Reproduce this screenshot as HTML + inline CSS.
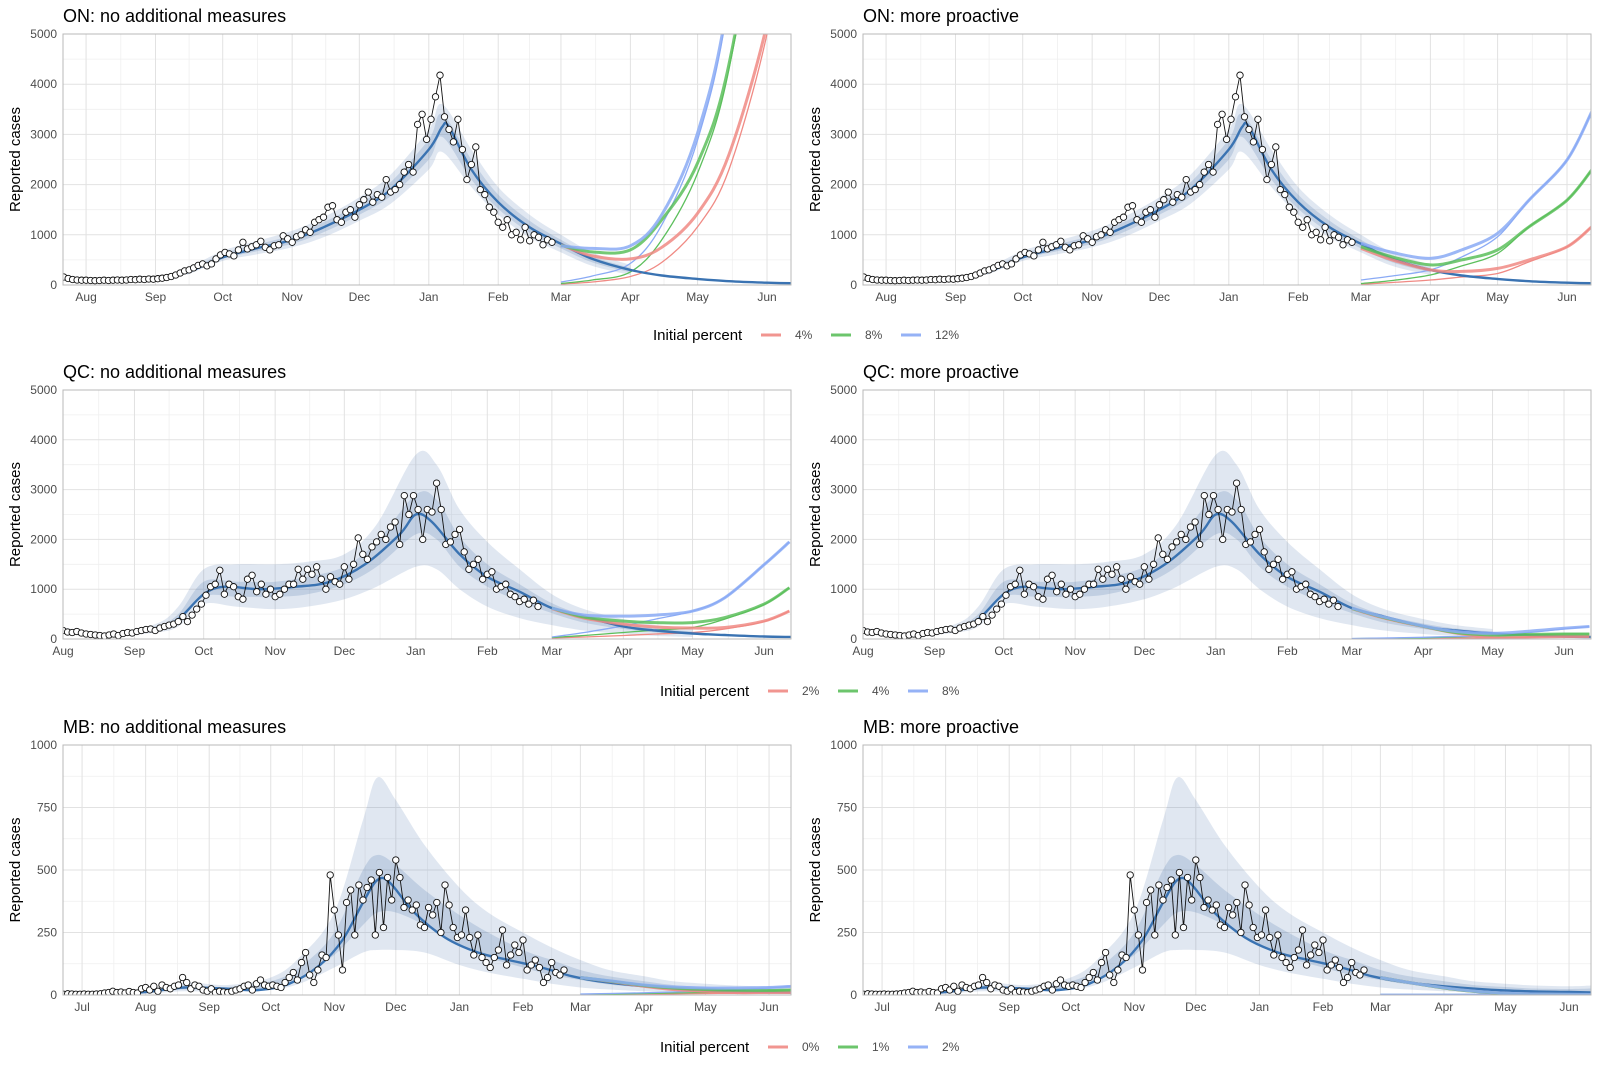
<!DOCTYPE html>
<html><head><meta charset="utf-8"><style>
html,body{margin:0;padding:0;background:#fff;}
svg{display:block;font-family:"Liberation Sans",Arial,sans-serif;}
</style></head><body>
<svg id="chart" width="1600" height="1067" viewBox="0 0 1600 1067" xmlns="http://www.w3.org/2000/svg">
<rect width="1600" height="1067" fill="#fff"/>
</svg>
<script>
// ===== DATA =====
// Ontario
const onObsStart = "2020-07-22";
const onObs = [160,130,110,100,95,
95,90,85,90,95,90,95,100,95,100,110,105,115,110,120,115,
125,135,150,170,200,240,280,300,340,390,420,380,420,520,
600,650,620,580,700,850,720,760,800,870,750,700,780,800,
980,920,850,960,1000,1100,1050,1250,1300,1350,1550,1580,1300,1250,
1450,1500,1350,1600,1700,1850,1650,1800,1750,2100,1850,1900,2000,2250,2400,2250,
3200,3400,2900,3300,3750,4180,3350,3100,2850,3300,2700,2100,2400,2750,1900,
1800,1550,1450,1250,1150,1300,1000,1050,900,1150,880,1000,950,800,900,850];
const onFitDates = ["2020-07-22","2020-08-15","2020-09-01","2020-09-15","2020-10-01","2020-10-15","2020-11-01","2020-11-15","2020-12-01","2020-12-15","2021-01-01","2021-01-07","2021-01-10","2021-01-20","2021-02-01","2021-02-15","2021-03-01","2021-03-15","2021-04-01","2021-04-15","2021-05-01","2021-05-15","2021-06-01","2021-06-12"];
const onFitVals = [120,100,120,250,550,720,900,1150,1500,1900,2700,3150,3150,2300,1650,1150,820,520,300,190,120,75,45,35];
const onRibDates = ["2020-09-15","2020-10-01","2020-10-15","2020-11-01","2020-11-15","2020-12-01","2020-12-15","2021-01-01","2021-01-07","2021-01-20","2021-02-01","2021-02-15","2021-03-01","2021-03-15","2021-04-01"];
const onOuterUp = [320,680,860,1080,1350,1750,2200,3100,3600,2700,1950,1400,1000,650,400];
const onOuterLo = [200,480,600,750,950,1280,1620,2300,2650,1950,1400,950,650,380,200];
const onInnerUp = [280,620,790,990,1250,1620,2050,2900,3400,2500,1800,1280,900,570,340];
const onInnerLo = [230,520,660,820,1050,1400,1770,2500,2950,2100,1520,1040,730,450,250];
const projDates = ["2021-03-01","2021-03-15","2021-04-01","2021-04-15","2021-05-01","2021-05-15","2021-06-01","2021-06-12"];
const onNoRedThick = [800,580,520,750,1430,2600,5200,8000];
const onNoRedThin = [20,60,170,450,1160,2300,5000,8000];
const onNoGreenThick = [790,660,700,1300,2430,4400,9000,15000];
const onNoGreenThin = [30,100,260,900,2230,4300,9000,15000];
const onNoBlueThick = [780,730,780,1400,3030,5800,12000,20000];
const onNoBlueThin = [60,180,430,1200,2890,5700,12000,20000];
const onPrRedThick = [730,500,300,270,330,500,760,1160];
const onPrRedThin = [15,50,100,160,230,460,760,1160];
const onPrGreenThick = [760,560,400,500,700,1160,1690,2290];
const onPrGreenThin = [30,90,200,380,630,1160,1690,2290];
const onPrBlueThick = [830,650,530,700,1030,1690,2490,3450];
const onPrBlueThin = [100,180,300,560,960,1690,2490,3450];

// Quebec
const qcObsStart = "2020-08-01";
const qcObs = [170,140,130,150,120,100,90,80,70,60,80,100,70,110,130,120,
150,170,190,200,170,220,250,280,300,350,450,350,480,600,700,
880,1050,1100,1380,900,1100,1050,850,800,1200,1280,950,1100,900,1000,850,
900,1000,1100,1100,1400,1200,1400,1300,1450,1200,1000,1250,1150,1100,
1450,1200,1500,2030,1700,1600,1850,1950,2100,2000,2250,2350,1900,2880,
2500,2880,2600,2000,2600,2550,3130,2600,1900,1950,2100,2200,1750,
1400,1500,1600,1200,1300,1350,1000,1050,1100,900,850,750,800,700,780,650];
const qcFitDates = ["2020-08-01","2020-08-20","2020-09-10","2020-09-20","2020-10-01","2020-10-10","2020-10-25","2020-11-10","2020-11-25","2020-12-10","2020-12-25","2021-01-01","2021-01-08","2021-01-20","2021-02-01","2021-02-15","2021-03-01","2021-03-15","2021-04-01","2021-04-15","2021-05-01","2021-05-15","2021-06-01","2021-06-13"];
const qcFitVals = [150,80,200,400,900,1050,1000,1050,1150,1500,2100,2500,2350,1700,1250,950,620,450,250,170,110,80,50,40];
const qcRibDates = ["2020-08-01","2020-08-20","2020-09-10","2020-09-20","2020-10-01","2020-10-15","2020-11-01","2020-11-15","2020-12-01","2020-12-15","2021-01-01","2021-01-10","2021-01-20","2021-02-01","2021-02-15","2021-03-01","2021-03-15","2021-04-01","2021-04-15","2021-05-01"];
const qcOuterUp = [230,120,300,650,1400,1500,1500,1550,1700,2300,3700,3500,2600,1950,1400,900,600,400,280,200];
const qcOuterLo = [100,50,130,250,700,650,600,650,800,1050,1450,1400,1000,650,420,280,170,100,60,40];
const qcInnerUp = [190,100,250,500,1150,1150,1150,1250,1450,1950,2900,2800,2050,1500,1100,720,480,310,210,150];
const qcInnerLo = [120,65,170,330,850,850,850,900,1100,1450,2100,2000,1450,1050,760,520,330,200,130,90];
const qcNoRedThick = [610,420,300,240,220,230,360,560];
const qcNoRedThin = [20,40,70,100,130,200,350,560];
const qcNoGreenThick = [620,440,360,330,330,430,700,1030];
const qcNoGreenThin = [30,70,130,180,230,400,690,1030];
const qcNoBlueThick = [620,480,460,480,560,830,1490,1950];
const qcNoBlueThin = [40,130,265,400,560,830,1490,1950];
const qcPrRedThick = [610,420,250,120,30,40,50,50];
const qcPrRedThin = [5,10,15,20,25,35,50,50];
const qcPrGreenThick = [615,430,255,130,80,90,100,100];
const qcPrGreenThin = [8,15,25,40,60,80,100,100];
const qcPrBlueThick = [620,440,260,150,115,150,215,250];
const qcPrBlueThin = [10,20,35,50,60,120,200,250];

// Manitoba
const mbObsStart = "2020-06-22";
const mbObs = [3,5,4,3,3,
4,3,3,4,5,8,10,15,10,12,8,14,10,8,
25,30,20,35,15,40,30,25,35,40,70,50,25,40,35,
20,15,25,10,15,12,10,15,20,25,35,40,20,45,
60,40,35,40,35,30,50,70,90,60,130,170,80,50,100,160,
150,480,340,240,100,370,420,240,440,380,430,460,240,490,270,
470,380,540,470,350,380,340,360,280,270,350,320,370,250,440,360,
270,230,240,340,230,160,240,150,130,110,150,180,260,120,160,
200,170,220,100,120,140,110,50,70,130,90,80,100];
const mbFitDates = ["2020-06-22","2020-07-15","2020-08-01","2020-08-20","2020-09-10","2020-09-25","2020-10-10","2020-10-25","2020-11-05","2020-11-15","2020-11-22","2020-11-28","2020-12-10","2020-12-25","2021-01-10","2021-01-25","2021-02-10","2021-02-25","2021-03-10","2021-04-01","2021-05-01","2021-06-01","2021-06-12"];
const mbFitVals = [3,5,12,30,25,20,45,120,220,370,460,450,330,230,170,140,110,75,55,35,18,12,10];
const mbRibDates = ["2020-07-15","2020-08-01","2020-08-20","2020-09-10","2020-10-01","2020-10-15","2020-11-01","2020-11-15","2020-11-22","2020-12-01","2020-12-15","2021-01-01","2021-01-15","2021-02-01","2021-02-15","2021-03-01","2021-03-15","2021-04-01","2021-04-15","2021-05-01","2021-05-15","2021-06-01","2021-06-12"];
const mbOuterUp = [8,20,50,40,70,150,330,700,870,780,600,430,330,250,190,140,100,75,55,45,38,35,38];
const mbOuterLo = [2,5,15,12,20,45,110,170,180,180,170,120,90,65,45,30,22,15,10,8,6,5,5];
const mbInnerUp = [6,15,38,32,55,110,250,500,560,520,420,320,250,180,140,100,75,55,40,32,26,24,26];
const mbInnerLo = [3,8,22,18,30,70,160,280,330,330,280,200,150,110,80,60,42,30,20,15,12,10,10];
const mbNoRedThick = [70,55,35,22,15,10,10,10];
const mbNoRedThin = [2,3,4,5,6,7,9,10];
const mbNoGreenThick = [70,56,38,28,22,19,18,20];
const mbNoGreenThin = [3,4,6,8,10,13,17,20];
const mbNoBlueThick = [70,57,40,32,28,28,30,35];
const mbNoBlueThin = [4,6,9,12,16,21,28,35];
const mbPrRedThick = [70,50,28,15,6,3,2,1];
const mbPrRedThin = [1,1,1,1,1,1,1,1];
const mbPrGreenThick = [70,50,28,15,6,3,2,1];
const mbPrGreenThin = [2,2,2,2,2,2,2,2];
const mbPrBlueThick = [70,50,29,16,7,4,3,2];
const mbPrBlueThin = [3,3,3,3,3,3,3,2];

const onLegend = ["4%","8%","12%"];
const qcLegend = ["2%","4%","8%"];
const mbLegend = ["0%","1%","2%"];
const yTicksBig = [0,1000,2000,3000,4000,5000];
const yTicksMB = [0,250,500,750,1000];
const monthNames = ["Jan","Feb","Mar","Apr","May","Jun","Jul","Aug","Sep","Oct","Nov","Dec"];

// ===== RENDER =====
const NS = "http://www.w3.org/2000/svg";
const svg = document.getElementById("chart");
function day(s){const p=s.split("-");return Date.UTC(+p[0],+p[1]-1,+p[2])/864e5;}
function mk(tag, attrs, parent){const e=document.createElementNS(NS,tag);for(const k in attrs)e.setAttribute(k,attrs[k]);(parent||svg).appendChild(e);return e;}
function smooth(pts){
  if(!pts.length) return "";
  let d="M"+pts[0][0].toFixed(1)+","+pts[0][1].toFixed(1);
  for(let i=0;i<pts.length-1;i++){
    const p0=pts[Math.max(0,i-1)],p1=pts[i],p2=pts[i+1],p3=pts[Math.min(pts.length-1,i+2)];
    const c1=[p1[0]+(p2[0]-p0[0])/6,p1[1]+(p2[1]-p0[1])/6];
    const c2=[p2[0]-(p3[0]-p1[0])/6,p2[1]-(p3[1]-p1[1])/6];
    d+="C"+c1[0].toFixed(1)+","+c1[1].toFixed(1)+" "+c2[0].toFixed(1)+","+c2[1].toFixed(1)+" "+p2[0].toFixed(1)+","+p2[1].toFixed(1);
  }
  return d;
}
const RED="#f08a84", GREEN="#5cbf5c", BLUE="#8aaaf5", FIT="#3a73b2";
let clipId=0;

function drawPanel(cfg){
  const g=mk("g",{});
  
  
  const x0=cfg.x0,y0=cfg.y0,w=cfg.w,h=cfg.h;
  const d0=cfg.d0,d1=cfg.d1;
  const X=d=>x0+(d-d0)/(d1-d0)*w;
  const Y=v=>y0+h-v/cfg.ymax*h;
  const t=mk("text",{x:x0,y:y0-12,"font-size":"18","fill":"#000"},g);
  t.textContent=cfg.title;
  
  
  const yt=cfg.yticks;
  for(let i=0;i<yt.length-1;i++){
    const v=(yt[i]+yt[i+1])/2;
    mk("line",{x1:x0,x2:x0+w,y1:Y(v),y2:Y(v),stroke:"#efefef","stroke-width":"0.8"},g);
  }
  const months=[];
  let yy=cfg.m0y, mm=cfg.m0m;
  while(true){
    const dd=Date.UTC(yy,mm,1)/864e5;
    if(dd>d1) break;
    if(dd>=d0) months.push({d:dd,label:monthNames[mm]});
    mm++; if(mm>11){mm=0;yy++;}
  }
  for(let i=0;i<months.length;i++){
    const a=months[i].d, b=i+1<months.length?months[i+1].d:a+31;
    const mid=(a+b)/2;
    if(mid<d1) mk("line",{x1:X(mid),x2:X(mid),y1:y0,y2:y0+h,stroke:"#efefef","stroke-width":"0.8"},g);
    if(i==0){const pm=a-15.5; if(pm>d0) mk("line",{x1:X(pm),x2:X(pm),y1:y0,y2:y0+h,stroke:"#efefef","stroke-width":"0.8"},g);}
  }
  yt.forEach(v=>{
    mk("line",{x1:x0,x2:x0+w,y1:Y(v),y2:Y(v),stroke:"#e2e2e2","stroke-width":"1"},g);
    const tl=mk("text",{x:x0-6,y:Y(v)+4,"font-size":"12","fill":"#4d4d4d","text-anchor":"end"},g);
    tl.textContent=v;
    
    
  });
  months.forEach(m=>{
    mk("line",{x1:X(m.d),x2:X(m.d),y1:y0,y2:y0+h,stroke:"#e2e2e2","stroke-width":"1"},g);
    const tl=mk("text",{x:X(m.d),y:y0+h+16,"font-size":"12","fill":"#4d4d4d","text-anchor":"middle"},g);
    tl.textContent=m.label;
    
    
  });
  const yl=mk("text",{x:0,y:0,"font-size":"15","fill":"#000","text-anchor":"middle",transform:"translate("+(x0-43)+","+(y0+h/2)+") rotate(-90)"},g);
  yl.textContent="Reported cases";
  
  
  const cid="clip"+(clipId++);
  const cp=mk("clipPath",{id:cid},g);
  mk("rect",{x:x0,y:y0,width:w,height:h},cp);
  const pg=mk("g",{"clip-path":"url(#"+cid+")"},g);
  function ribbon(dates,up,lo,fill,name){
    const u=dates.map((s,i)=>[X(day(s)),Y(up[i])]);
    const l=dates.map((s,i)=>[X(day(s)),Y(lo[i])]).reverse();
    const d=smooth(u)+"L"+l[0][0].toFixed(1)+","+l[0][1].toFixed(1)+smooth(l).replace(/^M[^C]*/,"")+"Z";
    const p=mk("path",{d:d,fill:fill,stroke:"none"},pg);
    
    
  }
  ribbon(cfg.ribDates,cfg.outerUp,cfg.outerLo,"rgba(70,115,170,0.17)","outer-ribbon");
  ribbon(cfg.ribDates,cfg.innerUp,cfg.innerLo,"rgba(70,115,170,0.2)","inner-ribbon");
  function proj(vals,color,wid,op,name){
    const pts=projDates.map((s,i)=>[X(day(s)),Y(vals[i])]);
    const p=mk("path",{d:smooth(pts),fill:"none",stroke:color,"stroke-width":wid,"stroke-opacity":op},pg);
    
    
  }
  proj(cfg.redThin,RED,1.3,1,"projection-low-thin");
  proj(cfg.greenThin,GREEN,1.3,1,"projection-mid-thin");
  proj(cfg.blueThin,BLUE,1.3,1,"projection-high-thin");
  const fp=cfg.fitDates.map((s,i)=>[X(day(s)),Y(cfg.fitVals[i])]);
  const fl=mk("path",{d:smooth(fp),fill:"none",stroke:FIT,"stroke-width":"2.4"},pg);
  
  
  proj(cfg.redThick,RED,3,0.85,"projection-low");
  proj(cfg.greenThick,GREEN,3,0.85,"projection-mid");
  proj(cfg.blueThick,BLUE,3,0.85,"projection-high");
  const s0=day(cfg.obsStart);
  const op=cfg.obs.map((v,i)=>[X(s0+2*i),Y(v)]);
  const ol=mk("polyline",{points:op.map(p=>p[0].toFixed(1)+","+p[1].toFixed(1)).join(" "),fill:"none",stroke:"#111","stroke-width":"0.9"},pg);
  
  
  op.forEach(p=>{
    const c=mk("circle",{cx:p[0].toFixed(1),cy:p[1].toFixed(1),r:"3.2",fill:"#fff",stroke:"#111","stroke-width":"0.9"},pg);
    
    
  });
  const b=mk("rect",{x:x0,y:y0,width:w,height:h,fill:"none",stroke:"#b8b8b8","stroke-width":"1"},g);
  
  
}

function drawLegend(xStart,cy,labels){
  const g=mk("g",{});
  
  
  const t=mk("text",{x:xStart,y:cy+5,"font-size":"15","fill":"#000"},g);
  t.textContent="Initial percent";
  
  
  const cols=[RED,GREEN,BLUE];
  let x=xStart+108;
  labels.forEach((lab,i)=>{
    const l=mk("line",{x1:x,x2:x+20,y1:cy,y2:cy,stroke:cols[i],"stroke-width":"3","stroke-opacity":"0.9"},g);
    
    
    const tx=mk("text",{x:x+34,y:cy+4,"font-size":"12","fill":"#4d4d4d"},g);
    tx.textContent=lab;
    
    
    x+=34+lab.length*7+22;
  });
}

const W=728;
const onD0=day("2020-08-01")-10.3, onD1=day("2021-06-01")+10.7;
const qcD0=day("2020-08-01"), qcD1=day("2021-06-01")+11.7;
const mbD0=day("2020-07-01")-9.3, mbD1=day("2021-06-01")+10.7;

const onBase={d0:onD0,d1:onD1,ymax:5000,yticks:yTicksBig,m0y:2020,m0m:7,obsStart:onObsStart,obs:onObs,fitDates:onFitDates,fitVals:onFitVals,ribDates:onRibDates,outerUp:onOuterUp,outerLo:onOuterLo,innerUp:onInnerUp,innerLo:onInnerLo,y0:34,h:251};
const qcBase={d0:qcD0,d1:qcD1,ymax:5000,yticks:yTicksBig,m0y:2020,m0m:7,obsStart:qcObsStart,obs:qcObs,fitDates:qcFitDates,fitVals:qcFitVals,ribDates:qcRibDates,outerUp:qcOuterUp,outerLo:qcOuterLo,innerUp:qcInnerUp,innerLo:qcInnerLo,y0:390,h:249};
const mbBase={d0:mbD0,d1:mbD1,ymax:1000,yticks:yTicksMB,m0y:2020,m0m:6,obsStart:mbObsStart,obs:mbObs,fitDates:mbFitDates,fitVals:mbFitVals,ribDates:mbRibDates,outerUp:mbOuterUp,outerLo:mbOuterLo,innerUp:mbInnerUp,innerLo:mbInnerLo,y0:745,h:250};

drawPanel(Object.assign({},onBase,{name:"panel-on-no-measures",title:"ON: no additional measures",x0:63,w:W,redThick:onNoRedThick,redThin:onNoRedThin,greenThick:onNoGreenThick,greenThin:onNoGreenThin,blueThick:onNoBlueThick,blueThin:onNoBlueThin}));
drawPanel(Object.assign({},onBase,{name:"panel-on-proactive",title:"ON: more proactive",x0:863,w:W,redThick:onPrRedThick,redThin:onPrRedThin,greenThick:onPrGreenThick,greenThin:onPrGreenThin,blueThick:onPrBlueThick,blueThin:onPrBlueThin}));
drawPanel(Object.assign({},qcBase,{name:"panel-qc-no-measures",title:"QC: no additional measures",x0:63,w:W,redThick:qcNoRedThick,redThin:qcNoRedThin,greenThick:qcNoGreenThick,greenThin:qcNoGreenThin,blueThick:qcNoBlueThick,blueThin:qcNoBlueThin}));
drawPanel(Object.assign({},qcBase,{name:"panel-qc-proactive",title:"QC: more proactive",x0:863,w:W,redThick:qcPrRedThick,redThin:qcPrRedThin,greenThick:qcPrGreenThick,greenThin:qcPrGreenThin,blueThick:qcPrBlueThick,blueThin:qcPrBlueThin}));
drawPanel(Object.assign({},mbBase,{name:"panel-mb-no-measures",title:"MB: no additional measures",x0:63,w:W,redThick:mbNoRedThick,redThin:mbNoRedThin,greenThick:mbNoGreenThick,greenThin:mbNoGreenThin,blueThick:mbNoBlueThick,blueThin:mbNoBlueThin}));
drawPanel(Object.assign({},mbBase,{name:"panel-mb-proactive",title:"MB: more proactive",x0:863,w:W,redThick:mbPrRedThick,redThin:mbPrRedThin,greenThick:mbPrGreenThick,greenThin:mbPrGreenThin,blueThick:mbPrBlueThick,blueThin:mbPrBlueThin}));

drawLegend(653,335,onLegend);
drawLegend(660,691,qcLegend);
drawLegend(660,1047,mbLegend);
</script>
</body></html>
